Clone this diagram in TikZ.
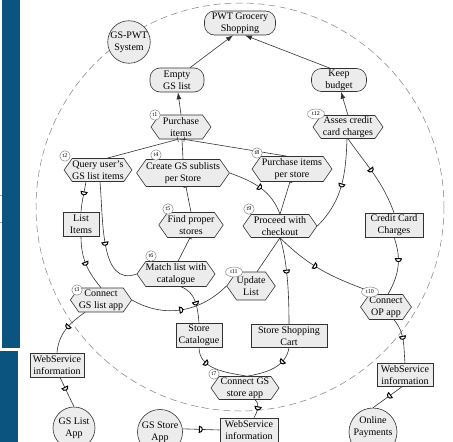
\documentclass[tikz,border=0pt]{standalone}
\usepackage{fontspec}
\setmainfont{Liberation Serif}
\usetikzlibrary{shapes.symbols,shapes.geometric,arrows.meta,decorations.markings}

\definecolor{barblue}{RGB}{12,84,128}
\definecolor{nodefill}{RGB}{236,236,236}
\definecolor{edgegray}{RGB}{50,50,50}

\tikzset{
  base/.style={draw=edgegray, fill=nodefill, line width=0.6pt, align=center,
    inner sep=0pt, font=\fontsize{10}{12}\selectfont},
  goal/.style={base, rectangle, rounded corners=10pt},
  task/.style={base, signal, signal to=east and west, signal pointer angle=110},
  res/.style={base, rectangle},
  actor/.style={base, circle},
  tag/.style={circle, draw=gray, fill=white, line width=0.45pt, inner sep=0.5pt,
    minimum size=10.5pt, font=\fontsize{6}{6}\selectfont},
  wtag/.style={tag, ellipse, minimum width=17pt, minimum height=10pt},
  link/.style={draw=edgegray, line width=0.6pt},
  means/.style={link, -{Latex[length=7pt,width=5pt]}},
  decomp/.style={link, -{Bar[width=5pt,line width=0.6pt]}},
  dmark/.style={postaction={decorate, decoration={markings, mark=at position #1 with
    {\draw[black, fill=white, line width=1pt] (-1.8pt,-3pt) -- (-1.8pt,3pt)
      arc[start angle=90, end angle=-90, radius=3pt] -- cycle;}}}},
  dep/.style={link, dmark=#1},
}

\begin{document}
\begin{tikzpicture}[x=1pt, y=-1pt]
\useasboundingbox (0,0) rectangle (453,442);
\clip (0,0) rectangle (453,442);

% side bar
\fill[barblue] (1.5,0) rectangle (20,348);
\fill[barblue] (0,351) rectangle (17.5,442);
\draw[gray!70, line width=0.4pt] (0,195) -- (2,195) (0,222) -- (2,222);

% system boundary
\draw[gray, line width=0.5pt, dash pattern=on 7pt off 4pt] (240,207) circle[radius=204];

% goals
\node[goal, minimum width=71pt, minimum height=24pt] (pwt) at (240,23) {PWT Grocery\\Shopping};
\node[goal, minimum width=54pt, minimum height=24pt] (empty) at (177,80) {Empty\\GS list};
\node[goal, minimum width=55pt, minimum height=23pt] (keep) at (339,80) {Keep\\budget};

% actors
\node[actor, minimum size=42pt] (sys) at (129,42) {GS-PWT\\System};
\node[actor, minimum size=42pt] (gslist) at (74,428) {GS List\\App};
\node[actor, minimum size=45pt] (gsstore) at (160,432) {GS Store\\App};
\node[actor, minimum size=48pt] (op) at (373,432) {};
\node[font=\fontsize{10}{12}\selectfont, align=center, inner sep=0pt] (optext) at (373,427) {Online\\Payments};

% tasks
\node[task, minimum width=60pt, minimum height=24pt] (t1) at (181,127) {Purchase\\items};
\node[task, minimum width=70pt, minimum height=23pt] (t12) at (348,127) {Asses credit\\card charges};
\node[task, minimum width=67pt, minimum height=23pt] (t2) at (98,170) {Query user's\\GS list items};
\node[task, minimum width=87pt, minimum height=27pt] (t4) at (183,173) {Create GS sublists\\per Store};
\node[task, minimum width=80pt, minimum height=25pt] (t8) at (292,169) {Purchase items\\per store};
\node[task, minimum width=57pt, minimum height=25pt] (t5) at (191,225) {Find proper\\stores};
\node[task, minimum width=74pt, minimum height=23pt] (t9) at (280,226) {Proceed with\\checkout};
\node[task, minimum width=74pt, minimum height=25pt] (t6) at (176,274) {Match list with\\catalogue};
\node[task, minimum width=48pt, minimum height=28pt] (t11) at (251,286) {Update\\List};
\node[task, minimum width=58pt, minimum height=24pt] (t3) at (101,300) {Connect\\GS list app};
\node[task, minimum width=43pt, minimum height=25pt] (t10) at (386,307) {Connect\\OP app};
\node[task, minimum width=68pt, minimum height=23pt] (t7) at (245,388) {Connect GS\\store app};

% resources
\node[res, minimum width=36pt, minimum height=24pt] (items) at (81,224) {List\\Items};
\node[res, minimum width=58pt, minimum height=24pt] (cc) at (394,225) {Credit Card\\Charges};
\node[res, minimum width=46pt, minimum height=24pt] (cat) at (199,335) {Store\\Catalogue};
\node[res, minimum width=76pt, minimum height=23pt] (cart) at (289,336) {Store Shopping\\Cart};
\node[res, minimum width=54pt, minimum height=24pt] (ws1) at (57,365) {WebService\\information};
\node[res, minimum width=56pt, minimum height=23pt] (ws2) at (405,375) {WebService\\information};
\node[res, minimum width=58pt, minimum height=24pt] (ws3) at (249,430) {WebService\\information};

% means-end links
\draw[means] ([xshift=13pt]empty.north) -- ([xshift=-7pt]pwt.south);
\draw[means] ([xshift=-9pt]keep.north) -- ([xshift=5pt]pwt.south);
\draw[means] (t1.north) -- ([xshift=1pt]empty.south);
\draw[means] (t12.north) -- ([xshift=2pt]keep.south);

% decomposition links
\draw[decomp] ([xshift=9pt]t2.north) -- ([xshift=-3pt]t1.south);
\draw[decomp] (t4.north) -- ([xshift=1pt]t1.south);
\draw[decomp] ([xshift=-5pt]t8.north) -- ([xshift=3pt]t1.south);
\draw[decomp] (t5.north) -- ([xshift=3pt]t4.south);
\draw[decomp] ([xshift=2pt]t6.north) -- ([xshift=-1pt]t5.south);
\draw[decomp] (t9.north) -- ([xshift=-2pt]t8.south);
\draw[link] ([xshift=6pt]t11.north) -- (t9.south);

% dependency links
\draw[dep=0.4] (t9.south) .. controls (287,260) and (289,290) .. (cart.north);
\draw[dep=0.4] (t9.south) to[out=-45, in=160] ([xshift=-8pt]t10.north);
\draw[dep=0.4] (cc.south) to[out=-70, in=60] ([xshift=2pt]t10.north);
\draw[dep=0.45] (t12.south) to[out=-55, in=110] (cc.north);
\draw[dep=0.5] ([xshift=-1pt]t12.south) to[out=-92, in=45] (t9.east);
\draw[dep=0.5] (t4.east) to[out=-20, in=110] (t9.north);
\draw[dep=0.4] ([xshift=-12pt]t2.south) to[out=-100, in=85] (items.north);
\draw[dep=0.5] (items.south) to[out=-90, in=130] (t3.north);
\draw[dep=0.55] ([xshift=2pt]t2.south) to[out=-85, in=200] (t6.west);
\draw[dep=0.55] ([xshift=5pt]t6.south) to[out=-20, in=95] (cat.north);
\draw[dep=0.5] (t3.east) to[out=-30, in=225] (t11.west);
\draw[dep=0.3] (cat.south) to[out=-90, in=170] ([xshift=2pt]t7.north);
\draw[dep=0.3] (cart.south) to[out=-100, in=10] ([xshift=2pt]t7.north);
\draw[dep=0.5] ([xshift=10pt]t7.south) to[out=-40, in=60] ([xshift=5pt]ws3.north);
\draw[dep=0.5] (gsstore.8) -- (ws3.west);
\draw[dep=0.45] ([xshift=-16pt]t3.south) to[out=215, in=85] (ws1.north);
\draw[dep=0.4] ([xshift=3pt]ws1.south) -- (gslist.north);
\draw[dep=0.45] ([xshift=8pt]t10.south) to[out=-50, in=95] (ws2.north);
\draw[dep=0.45] ([xshift=-3pt]ws2.south) -- (op.north);

% task tags
\node[tag] (lt1) at (155,115) {t1};
\node[wtag] (lt12) at (316,114) {t12};
\node[tag] (lt2) at (65,156) {t2};
\node[tag] (lt4) at (156,155) {t4};
\node[tag] (lt8) at (257,153) {t8};
\node[tag] (lt5) at (168,209) {t5};
\node[tag] (lt6) at (151,256) {t6};
\node[tag] (lt9) at (249,209) {t9};
\node[wtag] (lt11) at (234,272) {t11};
\node[tag] (lt3) at (77,290) {t3};
\node[wtag] (lt10) at (370,292) {t10};
\node[tag] (lt7) at (214,374) {t7};
\end{tikzpicture}
\end{document}
